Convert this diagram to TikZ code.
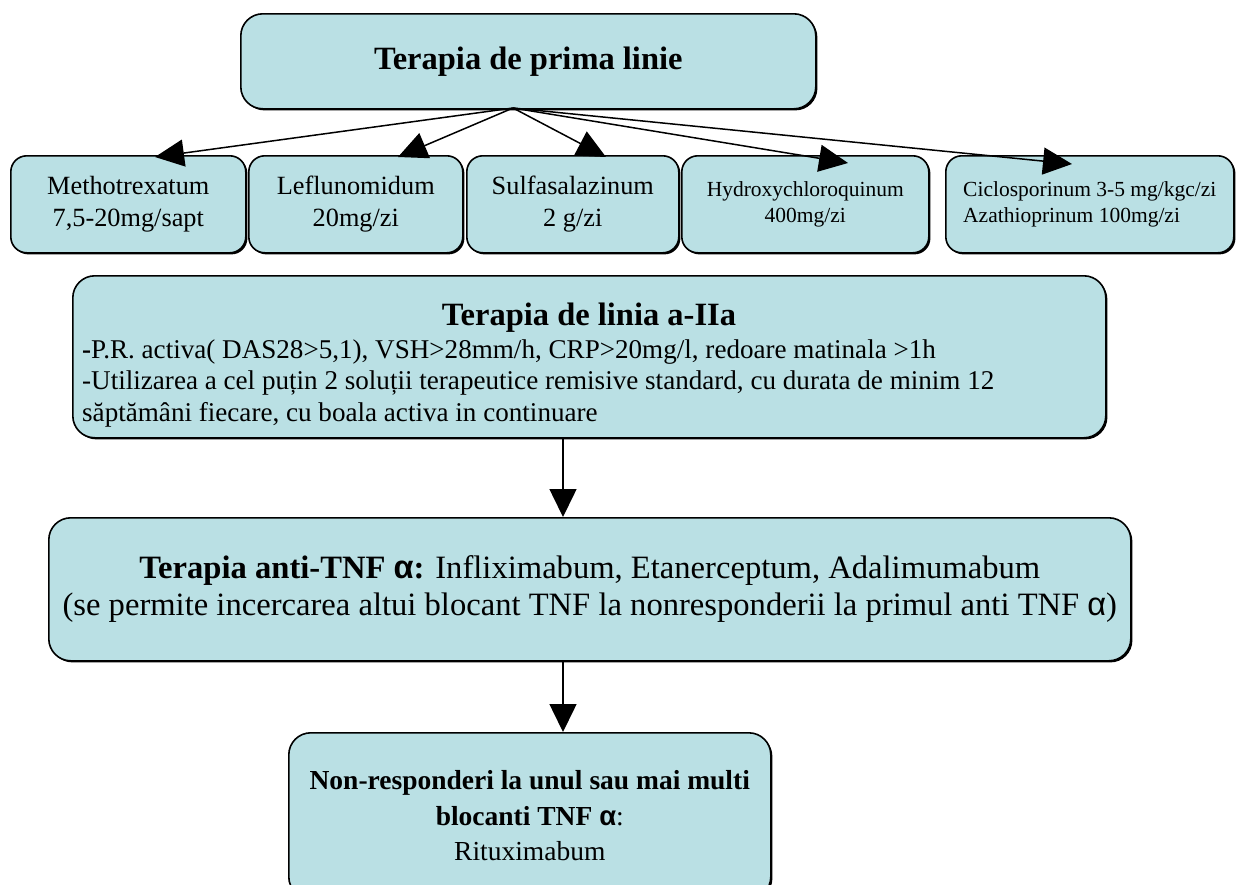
\documentclass[tikz,border=0pt]{standalone}
\usepackage{fontspec}
\setmainfont{Liberation Serif}
\newfontfamily\alf{Liberation Sans}
\usetikzlibrary{arrows.meta,shadows}
\definecolor{boxfill}{RGB}{186,224,228}
\begin{document}
\begin{tikzpicture}[x=1pt,y=-1pt,
  box/.style={draw=black, line width=1.6pt, fill=boxfill, rounded corners=22pt,
    inner sep=0pt, anchor=north west, align=center,
    drop shadow={shadow xshift=1.6pt, shadow yshift=-1.6pt, fill=black, opacity=1}},
  sbox/.style={box, rounded corners=16pt, minimum height=97pt},
  fan/.style={line width=1.5pt, -{Triangle[length=29pt,width=27pt]}},
  arr/.style={line width=1.5pt, -{Triangle[length=28pt,width=27pt]}},
  big/.style={font=\fontsize{26.3}{32}\selectfont},
  small/.style={font=\fontsize{21.5}{26}\selectfont},
  body/.style={font=\fontsize{27.1}{31.5}\selectfont}]
\useasboundingbox (0,0) rectangle (1239,884);

% boxes
\node[box, minimum width=575pt, minimum height=95pt,
  font=\bfseries\fontsize{32.5}{38}\selectfont] (top) at (240,13) {Terapia de prima linie};

\node[sbox, big, minimum width=235pt] (m1) at (10,155) {Methotrexatum\\7,5-20mg/sapt};
\node[sbox, big, minimum width=214pt] (m2) at (248,155) {Leflunomidum\\20mg/zi};
\node[sbox, big, minimum width=212pt] (m3) at (466,155) {Sulfasalazinum\\2 g/zi};
\node[sbox, small, minimum width=247pt] (m4) at (681,155) {Hydroxychloroquinum\\400mg/zi};
\node[sbox, small, minimum width=288pt, align=left] (m5) at (945,155) {Ciclosporinum 3-5 mg/kgc/zi\\Azathioprinum 100mg/zi};

\node[box, minimum width=1033pt, minimum height=162pt] (b2) at (72,275) {};
\node[anchor=base, inner sep=0pt, font=\bfseries\fontsize{32.5}{38}\selectfont] (b2t) at (589,325) {Terapia de linia a-IIa};
\node[anchor=north west, inner sep=0pt, align=left, body] (b2b) at (82,339)
  {\textbf{-}P.R. activa( DAS28>5,1), VSH>28mm/h, CRP>20mg/l, redoare matinala >1h\\
   -Utilizarea a cel puțin 2 soluții terapeutice remisive standard, cu durata de minim 12\\
   săptămâni fiecare, cu boala activa in continuare};

\node[box, minimum width=1082pt, minimum height=143pt,
  font=\fontsize{32.6}{37}\selectfont] (b3) at (48,517)
  {\textbf{Terapia anti-TNF {\alf α}:} Infliximabum, Etanerceptum, Adalimumabum\\
   (se permite incercarea altui blocant TNF la nonresponderii la primul anti TNF {\alf α})};

\node[box, minimum width=482pt, minimum height=166pt,
  font=\fontsize{27.5}{35.5}\selectfont] (b4) at (288,732)
  {\textbf{Non-responderi la unul sau mai multi}\\
   \textbf{blocanti TNF {\alf α}}:\\
   Rituximabum};

% fan connectors
\coordinate (fan) at (513,108);
\coordinate (t1) at (155,157);
\coordinate (t2) at (398,157);
\coordinate (t3) at (606,157);
\coordinate (t4) at (848,163);
\coordinate (t5) at (1072,164);
\foreach \t in {t1,t2,t3,t4,t5} \draw[fan] (fan) -- (\t);

% vertical connectors
\coordinate (vx) at (563,0);
\draw[arr] (b2.south -| vx) -- (b3.north -| vx);
\draw[arr] (b3.south -| vx) -- (b4.north -| vx);
\end{tikzpicture}
\end{document}
